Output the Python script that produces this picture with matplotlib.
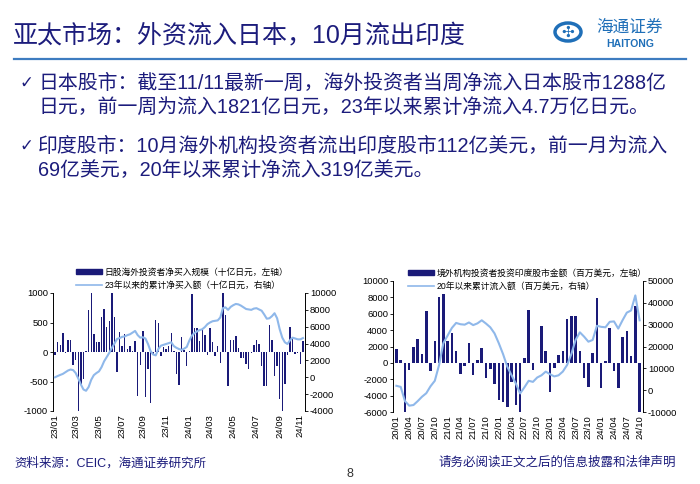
import numpy as np
import pandas as pd
import matplotlib
matplotlib.use("Agg")
import matplotlib.pyplot as plt
from matplotlib.patches import Circle, Rectangle
from matplotlib.lines import Line2D

plt.rcParams['font.family'] = ['Liberation Sans', 'Noto Sans CJK SC', 'DejaVu Sans']
plt.rcParams['axes.unicode_minus'] = False

NAVY = '#1c1c7c'
BAR = '#1a1a78'
LINE = '#8fb8ea'
LOGO = '#1f6fb8'

# Japan: weekly net purchase by foreign investors (bn JPY, left axis)
jp_start = '2023-01-06'
jp_flow = [-50, 170, 120, 320, -20, 200, 210, -220, -130, -1000,
           -550, -450, 20, 720, 1000, 310, 170, 170, 600, 730,
           420, 530, 1000, 600, -340, 340, 100, 300, 50, 100,
           20, 190, -750, -220, 350, -760, -280, -870, -50, 540,
           490, -60, 80, 50, 100, 330, 10, -370, -560, 260,
           30, -230, 20, 980, 400, 410, 190, 370, 280, -50,
           400, 170, -60, 100, -190, 1000, 620, -570, 200, 210,
           270, 60, -100, -110, -200, -280, -10, 120, 200, 130,
           -230, -570, -570, 450, 200, -410, -230, -800, -1000, -550,
           -50, 420, 260, -40, -10, -210, 190]
# cumulative since 2023 (bn JPY, right axis)
jp_cum = [0, 150, 280, 400, 600, 800, 920, 850, 500, -150,
          -850, -1450, -1600, -1150, -300, 250, 500, 700, 1200, 1900,
          2400, 2900, 3500, 4000, 4550, 4650, 4800, 4850, 5000, 5100,
          5300, 5500, 5000, 4700, 4750, 4600, 3950, 3100, 2700, 2600,
          3350, 3750, 3850, 3950, 4050, 4150, 3700, 3500, 3350, 3250,
          3400, 3600, 4350, 4950, 5250, 5450, 5600, 5700, 5950, 6300,
          6500, 6650, 6700, 6750, 7100, 8200, 8300, 8000, 8350, 8550,
          8700, 8650, 8500, 8300, 8100, 8050, 8000, 8150, 8200, 8050,
          7900, 7450, 6950, 7000, 7250, 7600, 7000, 5700, 4700, 4150,
          3950, 4400, 4700, 4600, 4500, 4500, 4650]

# India: monthly FPI equity flows (mn USD, left axis)
in_start = '2020-01'
in_flow = [1750, 300, -6300, -900, 2000, 2950, 1050, 6300, -1000, 2700,
           8100, 8450, 2650, 3600, 1500, -1300, -400, 2400, -1500, 300,
           1850, -1800, -800, -2600, -4500, -4800, -5400, -2300, -5200, -6300,
           650, 6450, -900, 0, 4450, 1400, -3600, -600, 1000, 1450,
           5300, 5700, 5700, 1500, -1800, -2900, 1150, 7900, -3100, 200,
           4300, -1050, -3100, 3200, 3900, 900, 6900, -11200]
# cumulative since 2020 (mn USD, right axis)
in_cum = [2000, 1500, -5000, -7100, -6800, -5000, -3000, -1400, 1800, 4300,
          11500, 21500, 25000, 28500, 30800, 30200, 30000, 31000, 29800, 30600,
          32000, 30500, 28800, 26000, 21500, 16500, 10700, 6800, 3000, -1500,
          1300, 4300, 3800, 5800, 6800, 8500, 7300, 6300, 6800, 8500,
          11500, 16500, 23000, 26500, 24500, 22200, 23000, 29500, 29000, 28800,
          31300, 31500, 28200, 32000, 35500, 36500, 43400, 32000]

jp_lbl_bar = '日股海外投资者净买入规模（十亿日元，左轴）'
jp_lbl_line = '23年以来的累计净买入额（十亿日元，右轴）'
in_lbl_bar = '境外机构投资者投资印度股市金额（百万美元，左轴）'
in_lbl_line = '20年以来累计流入额（百万美元，右轴）'

title = '亚太市场：外资流入日本，10月流出印度'
bullets = [
    ('✓', '日本股市：截至11/11最新一周，海外投资者当周净流入日本股市1288亿',
     '日元，前一周为流入1821亿日元，23年以来累计净流入4.7万亿日元。'),
    ('✓', '印度股市：10月海外机构投资者流出印度股市112亿美元，前一月为流入',
     '69亿美元，20年以来累计净流入319亿美元。'),
]
source = '资料来源：CEIC，海通证券研究所'
disclaimer = '请务必阅读正文之后的信息披露和法律声明'


def style_axes(ax, ax2):
    for a in (ax, ax2):
        a.spines['top'].set_visible(False)
        a.spines['bottom'].set_visible(False)
        a.tick_params(labelsize=6.8, length=2, width=0.6, pad=1.5)
    ax.spines['right'].set_visible(False)
    ax.spines['left'].set_linewidth(0.7)
    ax2.spines['left'].set_visible(False)
    ax2.spines['right'].set_linewidth(0.7)
    ax.tick_params(axis='x', length=0, labelrotation=90, pad=2)


def draw_panel(rect, dates, flow, cum, ylim, yticks, ylim2, yticks2,
               tick_idx, lbl_bar, lbl_line, leg_xy, bar_w):
    ax = fig.add_axes(rect)
    x = np.arange(len(flow))
    ax.bar(x, flow, width=bar_w, color=BAR, zorder=2)
    ax.set_ylim(*ylim)
    ax.set_yticks(yticks)
    ax.set_xlim(-0.8, len(flow) - 0.2)
    ax.set_xticks(tick_idx)
    ax.set_xticklabels([dates[i].strftime('%y/%m') for i in tick_idx])
    ax2 = ax.twinx()
    ax2.plot(x, cum, color=LINE, lw=1.5, zorder=3)
    ax2.set_ylim(*ylim2)
    ax2.set_yticks(yticks2)
    style_axes(ax, ax2)
    handles = [Rectangle((0, 0), 1, 1, color=BAR),
               Line2D([], [], color=LINE, lw=1.2)]
    fig.legend(handles, [lbl_bar, lbl_line], loc='upper left',
               bbox_to_anchor=leg_xy, frameon=False, fontsize=6.3,
               handlelength=3.0, handleheight=0.6, handletextpad=0.3,
               labelspacing=0.45, borderaxespad=0)
    return ax, ax2


fig = plt.figure(figsize=(7, 4.84), dpi=100)

# header
fig.text(13 / 700, 1 - 35 / 484, title, fontsize=18, fontweight='medium',
         color=NAVY, va='center', ha='left')
fig.add_artist(Line2D([14 / 700, 686 / 700], [1 - 59 / 484] * 2,
                      color='#3d7cc0', lw=1.6))
fig.add_artist(Circle((568 / 700, 1 - 32 / 484), 13 / 700, transform=fig.transFigure,
                      fill=False, ec=LOGO, lw=2.5))
fig.text(568 / 700, 1 - 32 / 484, '✣', fontsize=11, color=LOGO,
         ha='center', va='center', family=['DejaVu Sans'])
fig.text(630 / 700, 1 - 27 / 484, '海通证券', fontsize=12, color=LOGO,
         ha='center', va='center', style='italic')
fig.text(630 / 700, 1 - 44 / 484, 'HAITONG', fontsize=7.5, color=LOGO,
         ha='center', va='center', fontweight='bold')

# bullets
ys = [(83, 107), (146, 170)]
for (mark, l1, l2), (y1, y2) in zip(bullets, ys):
    fig.text(19 / 700, 1 - y1 / 484, mark, fontsize=12, color=NAVY,
             va='center', family=['DejaVu Sans'])
    fig.text(38 / 700, 1 - y1 / 484, l1, fontsize=14.3, color=NAVY, va='center')
    fig.text(38 / 700, 1 - y2 / 484, l2, fontsize=14.3, color=NAVY, va='center')

# Japan panel
jp_dates = pd.date_range(jp_start, periods=len(jp_flow), freq='W-FRI')
jp_ticks = []
for i, d in enumerate(jp_dates):
    if d.month % 2 == 1 and (i == 0 or jp_dates[i - 1].month != d.month):
        jp_ticks.append(i)
draw_panel([53 / 700, 1 - 411 / 484, 252 / 700, 118 / 484],
           jp_dates, jp_flow, jp_cum, (-1000, 1000), [-1000, -500, 0, 500, 1000],
           (-4000, 10000), list(range(-4000, 10001, 2000)), jp_ticks,
           jp_lbl_bar, jp_lbl_line, (72 / 700, 1 - 264 / 484), 0.55)

# India panel
in_dates = pd.date_range(in_start, periods=len(in_flow), freq='MS')
in_ticks = [i for i, d in enumerate(in_dates) if d.month in (1, 4, 7, 10)]
draw_panel([393 / 700, 1 - 412 / 484, 250 / 700, 131 / 484],
           in_dates, in_flow, in_cum, (-6000, 10000), list(range(-6000, 10001, 2000)),
           (-10000, 50000), list(range(-10000, 50001, 10000)), in_ticks,
           in_lbl_bar, in_lbl_line, (404 / 700, 1 - 265 / 484), 0.6)

# footer
fig.text(14 / 700, 1 - 463 / 484, source, fontsize=9, color=NAVY, va='center')
fig.text(350 / 700, 1 - 474 / 484, '8', fontsize=9, color='#333333',
         ha='center', va='center')
fig.text(676 / 700, 1 - 463 / 484, disclaimer, fontsize=9, color=NAVY,
         ha='right', va='center')

fig.savefig('out.png', dpi=100)
